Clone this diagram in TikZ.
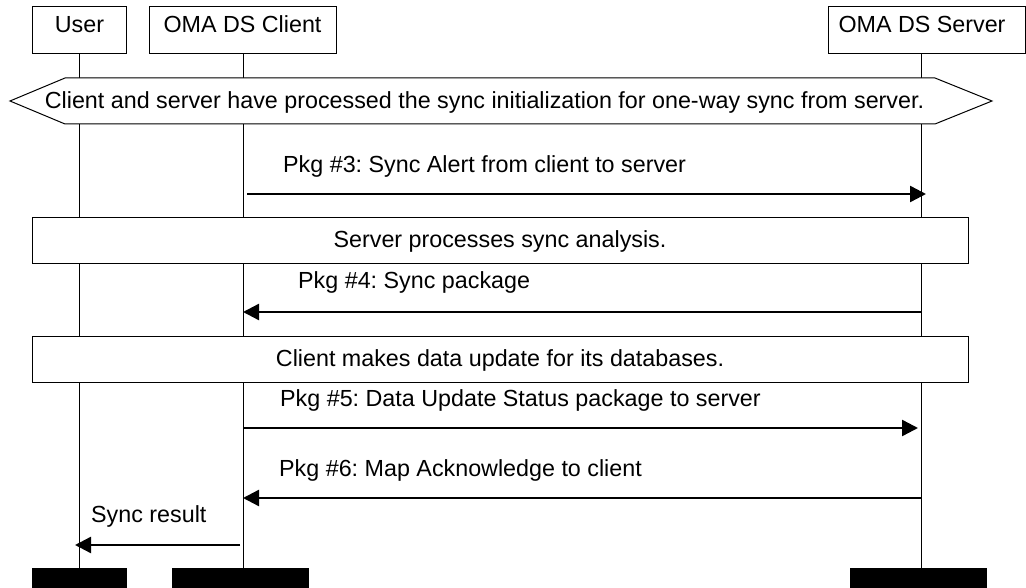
\documentclass[tikz,border=0pt]{standalone}
\usepackage{fontspec}
\setmainfont{Liberation Sans}
\usetikzlibrary{arrows.meta}
\frenchspacing
\begin{document}
\begin{tikzpicture}[x=1pt,y=-1pt,
  every node/.style={font=\fontsize{23.3}{27}\selectfont, inner sep=0pt},
  actorbox/.style={draw, line width=1pt, fill=white, text height=26pt, text depth=21pt, anchor=base},
  widebox/.style={draw, line width=1pt, fill=white, minimum width=936pt, text height=30pt, text depth=16pt, anchor=base},
  lifeline/.style={line width=1pt},
  msg/.style={line width=2.4pt, -{Triangle[length=16pt,width=16pt]}},
  msglabel/.style={anchor=base west},
  endbar/.style={fill=black, minimum height=20pt, anchor=north}
]
\useasboundingbox (0,0) rectangle (1026,588);

% lifelines (drawn first, behind boxes)
\coordinate (uTop) at (79,54);   \coordinate (uBot) at (79,568);
\coordinate (cTop) at (243,54);  \coordinate (cBot) at (243,568);
\coordinate (sTop) at (921,54);  \coordinate (sBot) at (921,568);
\draw[lifeline] (uTop) -- (uBot);
\draw[lifeline] (cTop) -- (cBot);
\draw[lifeline] (sTop) -- (sBot);

% actor boxes
\node[actorbox, minimum width=94pt] (user) at (79.5,33) {User};
\node[actorbox, minimum width=187pt] (client) at (242.5,33) {OMA DS Client};
\node[draw, line width=1pt, fill=white, minimum width=197pt, minimum height=47pt] (server) at (926.5,30.5) {};
\node[anchor=base] (servertxt) at (922,33) {OMA DS Server};

% hexagon condition
\draw[line width=1pt, fill=white] (10,101) -- (65,78) -- (935,78) -- (992,101) -- (935,124) -- (65,124) -- cycle;
\node[anchor=base] (hex) at (484.5,109) {Client and server have processed the sync initialization for one-way sync from server.};

% message 1
\coordinate (c1) at (243,194); \coordinate (s1) at (921,194);
\draw[msg] ([xshift=4pt]c1) -- ([xshift=5pt]s1);
\node[msglabel] (l1) at (283,173) {Pkg \#3: Sync Alert from client to server};

% box 1
\node[widebox] (b1) at (500,248) {Server processes sync analysis.};

% message 2
\coordinate (c2) at (243,312); \coordinate (s2) at (921,312);
\draw[msg] (s2) -- (c2);
\node[msglabel] (l2) at (298,288) {Pkg \#4: Sync package};

% box 2
\node[widebox] (b2) at (500,366) {Client makes data update for its databases.};

% message 3
\coordinate (c3) at (243,428); \coordinate (s3) at (921,428);
\draw[msg] (c3) -- ([xshift=-3pt]s3);
\node[msglabel] (l3) at (280,406) {Pkg \#5: Data Update Status package to server};

% message 4
\coordinate (c4) at (243,498); \coordinate (s4) at (921,498);
\draw[msg] (s4) -- (c4);
\node[msglabel] (l4) at (279,476) {Pkg \#6: Map Acknowledge to client};

% message 5
\coordinate (c5) at (243,545); \coordinate (u5) at (79,545);
\draw[msg] ([xshift=-3pt]c5) -- ([xshift=-4pt]u5);
\node[msglabel] (l5) at (91,522) {Sync result};

% end bars
\node[endbar, minimum width=95pt] (uEnd) at (79.5,568) {};
\node[endbar, minimum width=137pt] (cEnd) at (240.5,568) {};
\node[endbar, minimum width=137pt] (sEnd) at (918.5,568) {};
\end{tikzpicture}
\end{document}
